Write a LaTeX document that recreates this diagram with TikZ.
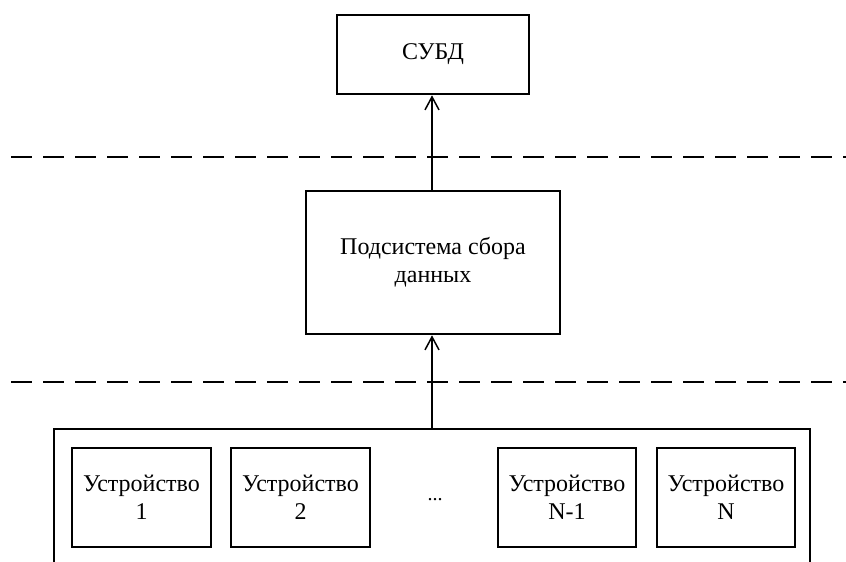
\documentclass[tikz,border=0pt]{standalone}
\usepackage{fontspec}
\setmainfont{Liberation Serif}
\usetikzlibrary{arrows.meta}
\begin{document}
\begin{tikzpicture}[x=1pt,y=-1pt,
  blk/.style={draw,line width=2.6pt,fill=white,inner sep=0pt,
    font=\fontsize{24}{28}\selectfont,align=center},
  sep/.style={line width=2pt,dash pattern=on 21pt off 11pt},
  flow/.style={line width=1.5pt,-{Straight Barb[length=13pt,width=14pt,line width=1.5pt]}}]
  \useasboundingbox (0,0) rectangle (846,562);
  \begin{scope}
    \clip (0,0) rectangle (846,562);
    % level separators
    \draw[sep] (11,157) -- (846,157);
    \draw[sep] (11,382) -- (846,382);
    % device group frame (open below the page edge)
    \draw[line width=2.6pt] (54,600) -- (54,429) -- (810,429) -- (810,600);
  \end{scope}
  \node[blk,minimum width=192pt,minimum height=79pt] (dbms) at (433,54.5) {СУБД};
  \node[blk,minimum width=254pt,minimum height=143pt] (acq) at (433,262.5)
    {Подсистема сбора\\данных};
  \coordinate (grp) at (432,429);
  \node[blk,minimum width=139pt,minimum height=99pt] (d1) at (141.5,497.5) {Устройство\\1};
  \node[blk,minimum width=139pt,minimum height=99pt] (d2) at (300.5,497.5) {Устройство\\2};
  \node[font=\fontsize{20}{24}\selectfont] (dots) at (435,500) {...};
  \node[blk,minimum width=138pt,minimum height=99pt] (dn1) at (567,497.5) {Устройство\\N-1};
  \node[blk,minimum width=138pt,minimum height=99pt] (dn) at (726,497.5) {Устройство\\N};
  \draw[flow] (grp) -- (acq.south -| grp);
  \draw[flow] (acq.north -| grp) -- (dbms.south -| grp);
\end{tikzpicture}
\end{document}
